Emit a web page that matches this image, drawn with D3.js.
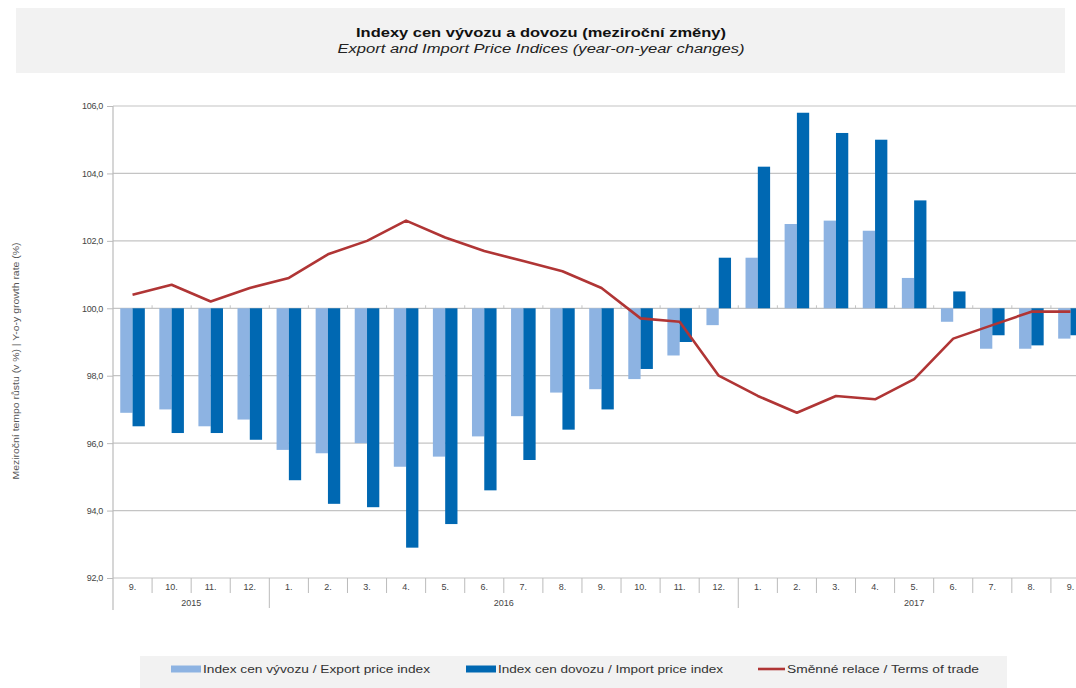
<!DOCTYPE html>
<html>
<head>
<meta charset="utf-8">
<script src="https://cdn.jsdelivr.net/npm/d3@7"></script>
<style>
  html, body { margin: 0; padding: 0; background: #fff; }
  svg { display: block; font-family: "Liberation Sans", Arial, sans-serif; }
</style>
</head>
<body>
<svg id="chart" width="1076" height="688"></svg>
<script>
// Monthly categories, 9/2015 – 9/2017
const months = ["9.","10.","11.","12.","1.","2.","3.","4.","5.","6.","7.","8.","9.","10.","11.","12.","1.","2.","3.","4.","5.","6.","7.","8.","9."];
const years = [
  { label: "2015", from: 0, to: 4 },
  { label: "2016", from: 4, to: 16 },
  { label: "2017", from: 16, to: 25 }
];

// Index cen vývozu / Export price index
const exportIdx = [96.9, 97.0, 96.5, 96.7, 95.8, 95.7, 96.0, 95.3, 95.6, 96.2, 96.8, 97.5, 97.6,
                   97.9, 98.6, 99.5, 101.5, 102.5, 102.6, 102.3, 100.9, 99.6, 98.8, 98.8, 99.1];
// Index cen dovozu / Import price index
const importIdx = [96.5, 96.3, 96.3, 96.1, 94.9, 94.2, 94.1, 92.9, 93.6, 94.6, 95.5, 96.4, 97.0,
                   98.2, 99.0, 101.5, 104.2, 105.8, 105.2, 105.0, 103.2, 100.5, 99.2, 98.9, 99.2];
// Směnné relace / Terms of trade
const termsOfTrade = [100.4, 100.7, 100.2, 100.6, 100.9, 101.6, 102.0, 102.6, 102.1, 101.7, 101.4, 101.1, 100.6,
                      99.7, 99.6, 98.0, 97.4, 96.9, 97.4, 97.3, 97.9, 99.1, 99.5, 99.9, 99.9];

const yTicks = [92, 94, 96, 98, 100, 102, 104, 106];

const svg = d3.select("#chart");
const W = 1076;

const left = 113, stepW = 39.08;
const x = d3.scaleBand().domain(d3.range(months.length)).range([left, left + stepW * months.length]).padding(0);
const xs = d3.scaleBand().domain(["exp", "imp"]).range([0, x.bandwidth()]).paddingInner(0).paddingOuter(0.59);
const y = d3.scaleLinear().domain([92, 106]).range([578, 106]);

const fmt = v => d3.format(".1f")(v).replace(".", ",");

// Title box
svg.append("rect").attr("x", 16).attr("y", 8).attr("width", 1049).attr("height", 65).attr("fill", "#f2f2f2");
svg.append("text").attr("x", 541).attr("y", 37).attr("text-anchor", "middle")
  .attr("font-size", 13.5).attr("font-weight", "bold").attr("fill", "#111")
  .attr("textLength", 370).attr("lengthAdjust", "spacingAndGlyphs")
  .text("Indexy cen vývozu a dovozu (meziroční změny)");
svg.append("text").attr("x", 541).attr("y", 53).attr("text-anchor", "middle")
  .attr("font-size", 12.5).attr("font-style", "italic").attr("fill", "#222")
  .attr("textLength", 407).attr("lengthAdjust", "spacingAndGlyphs")
  .text("Export and Import Price Indices (year-on-year changes)");

const plot = svg.append("g");

// Horizontal gridlines
plot.append("g").selectAll("line").data(yTicks).join("line")
  .attr("x1", left).attr("x2", W)
  .attr("y1", d => y(d)).attr("y2", d => y(d))
  .attr("stroke", "#c4c4c4").attr("stroke-width", 1.2);

// Y axis
const yAxis = d3.axisLeft(y).tickValues(yTicks).tickFormat(fmt).tickSize(6).tickPadding(4);
const ya = plot.append("g").attr("transform", `translate(${left},0)`).call(yAxis);
ya.select(".domain").remove();
ya.selectAll(".tick line").attr("stroke", "#bbb");
ya.selectAll(".tick text").attr("font-size", 9).attr("fill", "#444")
  .attr("font-family", "Liberation Sans, Arial, sans-serif").attr("letter-spacing", "-0.3");
plot.append("line").attr("x1", left).attr("x2", left).attr("y1", y(106)).attr("y2", 610)
  .attr("stroke", "#bbb").attr("stroke-width", 1.2);

// Small category ticks on the 100 baseline
plot.append("g").selectAll("line").data(d3.range(1, months.length)).join("line")
  .attr("x1", d => x(d)).attr("x2", d => x(d))
  .attr("y1", y(100) - 3).attr("y2", y(100))
  .attr("stroke", "#c4c4c4");

// Bars
const groups = plot.append("g").selectAll("g").data(months.map((m, i) => i)).join("g")
  .attr("transform", i => `translate(${x(i)},0)`);
groups.append("rect")
  .attr("x", xs("exp")).attr("width", xs.bandwidth())
  .attr("y", i => Math.min(y(exportIdx[i]), y(100)))
  .attr("height", i => Math.abs(y(exportIdx[i]) - y(100)))
  .attr("fill", "#8db3e2");
groups.append("rect")
  .attr("x", xs("imp")).attr("width", xs.bandwidth())
  .attr("y", i => Math.min(y(importIdx[i]), y(100)))
  .attr("height", i => Math.abs(y(importIdx[i]) - y(100)))
  .attr("fill", "#0068b2");

// Terms of trade line
const line = d3.line().x((d, i) => x(i) + x.bandwidth() / 2).y(d => y(d));
plot.append("path").datum(termsOfTrade).attr("d", line)
  .attr("fill", "none").attr("stroke", "#b03535").attr("stroke-width", 2.6).attr("stroke-linejoin", "round");

// Category axis: month labels, separators, years
const xa = plot.append("g");
xa.selectAll("line.sep").data(d3.range(1, months.length)).join("line")
  .attr("class", "sep")
  .attr("x1", d => x(d)).attr("x2", d => x(d))
  .attr("y1", y(92)).attr("y2", d => years.some(yr => yr.from === d) ? 608 : 593)
  .attr("stroke", "#bbb");
xa.selectAll("text.m").data(months).join("text")
  .attr("class", "m")
  .attr("x", (d, i) => x(i) + x.bandwidth() / 2).attr("y", 590)
  .attr("text-anchor", "middle").attr("font-size", 9).attr("fill", "#444")
  .text(d => d);
xa.selectAll("text.yr").data(years).join("text")
  .attr("class", "yr")
  .attr("x", d => (x(d.from) + x(d.to - 1) + x.bandwidth()) / 2).attr("y", 606)
  .attr("text-anchor", "middle").attr("font-size", 9).attr("fill", "#444")
  .text(d => d.label);

// Y axis title
svg.append("text")
  .attr("transform", "translate(19,361) rotate(-90)")
  .attr("text-anchor", "middle").attr("font-size", 9).attr("fill", "#555")
  .attr("textLength", 237).attr("lengthAdjust", "spacingAndGlyphs")
  .text("Meziroční tempo růstu (v %) | Y-o-y growth rate (%)");

// Legend
svg.append("rect").attr("x", 140).attr("y", 656).attr("width", 867).attr("height", 40).attr("fill", "#f2f2f2");
const legend = [
  { label: "Index cen vývozu / Export price index", color: "#8db3e2", type: "bar", x: 171, len: 227 },
  { label: "Index cen dovozu / Import price index", color: "#0068b2", type: "bar", x: 466, len: 225 },
  { label: "Směnné relace / Terms of trade", color: "#b03535", type: "line", x: 758, len: 192 }
];
const lg = svg.append("g").selectAll("g").data(legend).join("g")
  .attr("transform", d => `translate(${d.x},669)`);
lg.filter(d => d.type === "bar").append("rect")
  .attr("x", 0).attr("y", -3.5).attr("width", 30).attr("height", 7).attr("fill", d => d.color);
lg.filter(d => d.type === "line").append("line")
  .attr("x1", 0).attr("x2", 27).attr("y1", 0).attr("y2", 0)
  .attr("stroke", d => d.color).attr("stroke-width", 2.6);
lg.append("text")
  .attr("x", d => d.type === "bar" ? 32 : 29).attr("y", 3.5)
  .attr("font-size", 10).attr("fill", "#333")
  .attr("textLength", d => d.len).attr("lengthAdjust", "spacingAndGlyphs")
  .text(d => d.label);
</script>
</body>
</html>
